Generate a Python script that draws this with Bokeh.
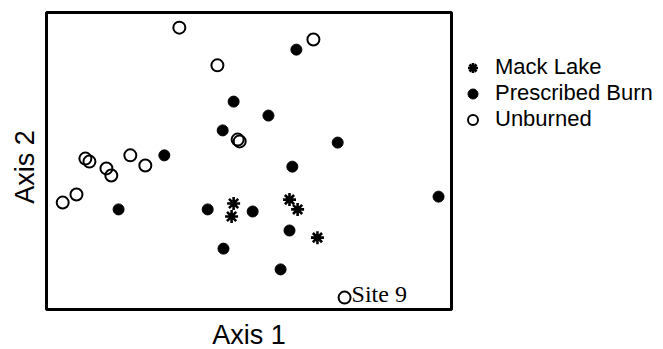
import math
from bokeh.plotting import figure
from bokeh.models import Label, Legend, LegendItem, BoxAnnotation
from bokeh.embed import file_html
from bokeh.resources import INLINE

# Ordination scores (as % of plotted extent)
mack_x = [46.2, 45.7, 60.0, 62.0, 66.9]
mack_y = [35.7, 31.3, 37.0, 33.7, 24.2]

burn_x = [61.7, 46.2, 43.5, 54.8, 71.9, 29.1, 60.7, 17.8, 39.8, 50.9, 43.7, 60.0, 57.8, 96.8]
burn_y = [87.5, 70.0, 60.3, 65.3, 56.2, 51.9, 48.1, 33.7, 33.7, 33.0, 20.5, 26.6, 13.5, 38.0]

unb_x = [32.8, 65.9, 42.2, 47.2, 47.7, 9.6, 10.6, 20.7, 14.8, 16.0, 24.4, 4.0, 7.4, 73.6]
unb_y = [94.9, 90.9, 82.2, 57.2, 56.6, 50.8, 49.8, 51.9, 47.5, 45.1, 48.5, 36.0, 38.7, 4.0]

site9_x, site9_y, site9_text = 73.6, 4.0, "Site 9"
series_names = ["Mack Lake", "Prescribed Burn", "Unburned"]
axis_titles = ["Axis 1", "Axis 2"]

# plotted box spans 0..100 on both axes; figure extends beyond it for titles/legend
W, H = 663, 349
box_l, box_r, box_t, box_b = 46, 451, 12, 309
sx = (box_r - box_l) / 100.0
sy = (box_b - box_t) / 100.0
x0 = -box_l / sx
x1 = 100 + (W - box_r) / sx
y0 = -(H - box_b) / sy
y1 = 100 + box_t / sy

p = figure(width=W, height=H, output_backend="svg", toolbar_location=None,
           x_range=(x0, x1), y_range=(y0, y1), x_axis_type=None, y_axis_type=None,
           min_border=0)
p.outline_line_color = None
p.background_fill_color = "white"
p.border_fill_color = "white"

p.add_layout(BoxAnnotation(left=0, right=100, bottom=0, top=100, fill_alpha=0,
                           line_color="black", line_alpha=1.0, line_width=3,
                           level="underlay"))

r_unb = p.scatter(unb_x, unb_y, marker="circle", size=12, fill_color=None,
                  line_color="black", line_width=2)
r_burn = p.scatter(burn_x, burn_y, marker="circle", size=11, fill_color="black",
                   line_color="black", line_width=1)
r_mack = p.scatter(mack_x, mack_y, marker="asterisk", size=13,
                   line_color="black", line_width=2.6)

legend = Legend(items=[LegendItem(label=series_names[0], renderers=[r_mack]),
                       LegendItem(label=series_names[1], renderers=[r_burn]),
                       LegendItem(label=series_names[2], renderers=[r_unb])],
                location=(460, 217), orientation="vertical",
                glyph_width=25, glyph_height=25, label_height=25,
                label_standoff=10, spacing=0, padding=0, margin=0,
                border_line_color=None, background_fill_alpha=0,
                label_text_font="Liberation Sans", label_text_font_size="22px",
                label_text_color="black")
p.add_layout(legend)

p.add_layout(Label(x=site9_x, y=site9_y, text=site9_text, x_offset=7, y_offset=4,
                   text_font="Liberation Serif", text_font_size="24px",
                   text_color="black", text_baseline="alphabetic"))

p.add_layout(Label(x=50, y=-8.7, text=axis_titles[0], text_align="center",
                   text_baseline="alphabetic", text_font="Liberation Sans",
                   text_font_size="27px", text_color="black"))
p.add_layout(Label(x=-5.4, y=48.0, text=axis_titles[1], angle=math.pi / 2,
                   text_align="center", text_baseline="alphabetic",
                   text_font="Liberation Sans", text_font_size="27px",
                   text_color="black"))

open("out.html", "w").write(file_html(p, INLINE))
